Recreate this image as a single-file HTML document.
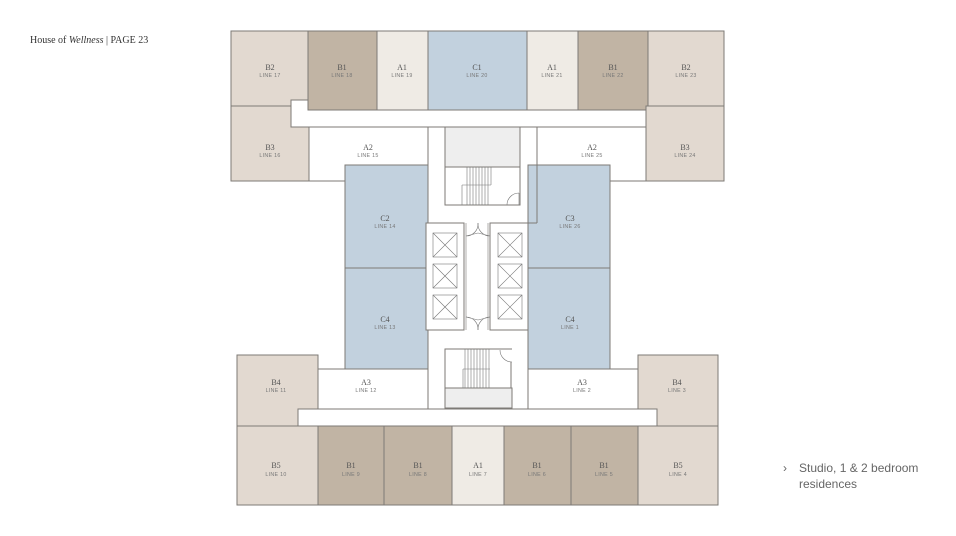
<!DOCTYPE html>
<html><head><meta charset="utf-8"><style>
html,body{margin:0;padding:0;background:#fff;width:956px;height:536px;overflow:hidden}
svg{display:block}
.n{font-family:"Liberation Serif",serif;font-size:8px;fill:#555;text-anchor:middle}
.l{font-family:"Liberation Sans",sans-serif;font-size:5.3px;fill:#777;text-anchor:middle;letter-spacing:.3px}
</style></head><body>
<svg width="956" height="536" viewBox="0 0 956 536" xmlns="http://www.w3.org/2000/svg">
<text x="30" y="43" font-family="Liberation Serif,serif" font-size="10" fill="#333">House of <tspan font-style="italic">Wellness</tspan> | PAGE 23</text>
<text x="783" y="472" font-family="Liberation Sans,sans-serif" font-size="12" fill="#666">›</text>
<text x="799" y="472" font-family="Liberation Sans,sans-serif" font-size="12" fill="#666">Studio, 1 &amp; 2 bedroom</text>
<text x="799" y="488" font-family="Liberation Sans,sans-serif" font-size="12" fill="#666">residences</text>
<g stroke="#7d7a76" stroke-width="1">
<rect x="231" y="31" width="77" height="75" fill="#e2d9d0"/>
<rect x="231" y="106" width="78" height="75" fill="#e2d9d0"/>
<rect x="291" y="100" width="372" height="27" fill="#fff"/>
<rect x="308" y="31" width="69" height="79" fill="#c1b4a4"/>
<rect x="377" y="31" width="51" height="79" fill="#efebe5"/>
<rect x="428" y="31" width="99" height="79" fill="#c2d1de"/>
<rect x="527" y="31" width="51" height="79" fill="#efebe5"/>
<rect x="578" y="31" width="70" height="79" fill="#c1b4a4"/>
<rect x="648" y="31" width="76" height="75" fill="#e2d9d0"/>
<rect x="646" y="106" width="78" height="75" fill="#e2d9d0"/>
<rect x="309" y="127" width="119" height="54" fill="#fff"/>
<rect x="537" y="127" width="109" height="54" fill="#fff"/>
<rect x="445" y="127" width="75" height="78" fill="#fff"/>
<rect x="445" y="127" width="75" height="40" fill="#eee"/>
<rect x="345" y="165" width="83" height="103" fill="#c2d1de"/>
<rect x="345" y="268" width="83" height="101" fill="#c2d1de"/>
<rect x="528" y="165" width="82" height="103" fill="#c2d1de"/>
<rect x="528" y="268" width="82" height="101" fill="#c2d1de"/>
<line x1="537" y1="165" x2="537" y2="223" />
<line x1="528" y1="223" x2="537" y2="223" />
<rect x="426" y="223" width="38" height="107" fill="#fff"/>
<rect x="490" y="223" width="38" height="107" fill="#fff"/>
<line x1="466" y1="223" x2="466" y2="330" stroke-width=".6"/>
<line x1="488" y1="223" x2="488" y2="330" stroke-width=".6"/>
<rect x="237" y="355" width="81" height="71" fill="#e2d9d0"/>
<rect x="638" y="355" width="80" height="71" fill="#e2d9d0"/>
<rect x="318" y="369" width="110" height="40" fill="#fff"/>
<rect x="528" y="369" width="110" height="40" fill="#fff"/>
<rect x="298" y="409" width="359" height="17" fill="#fff"/>
<rect x="445" y="349" width="67" height="59" fill="#fff" stroke="none"/>
<polyline points="512,349 445,349 445,408 512,408" fill="none"/>
<line x1="511" y1="362" x2="511" y2="408"/>
<rect x="445" y="388" width="67" height="20" fill="#eee"/>
<rect x="237" y="426" width="81" height="79" fill="#e2d9d0"/>
<rect x="318" y="426" width="66" height="79" fill="#c1b4a4"/>
<rect x="384" y="426" width="68" height="79" fill="#c1b4a4"/>
<rect x="452" y="426" width="52" height="79" fill="#efebe5"/>
<rect x="504" y="426" width="67" height="79" fill="#c1b4a4"/>
<rect x="571" y="426" width="67" height="79" fill="#c1b4a4"/>
<rect x="638" y="426" width="80" height="79" fill="#e2d9d0"/>
</g>
<g stroke="#777" stroke-width=".6" fill="none">
<rect x="433" y="233" width="24" height="24"/><path d="M433 233L457 257M457 233L433 257"/>
<rect x="433" y="264" width="24" height="24"/><path d="M433 264L457 288M457 264L433 288"/>
<rect x="433" y="295" width="24" height="24"/><path d="M433 295L457 319M457 295L433 319"/>
<rect x="498" y="233" width="24" height="24"/><path d="M498 233L522 257M522 233L498 257"/>
<rect x="498" y="264" width="24" height="24"/><path d="M498 264L522 288M522 264L498 288"/>
<rect x="498" y="295" width="24" height="24"/><path d="M498 295L522 319M522 295L498 319"/>
<path d="M466 236 L478 233 M478 223 A12 12 0 0 1 466 236"/>
<path d="M490 236 L478 233 M478 223 A12 12 0 0 0 490 236"/>
<path d="M466 317 L478 320 M478 330 A12 12 0 0 0 466 317"/>
<path d="M490 317 L478 320 M478 330 A12 12 0 0 1 490 317"/>
<path d="M507 205 A12 12 0 0 1 519 193 M519 193 V205"/>
<path d="M500 350 A12 12 0 0 0 512 362"/>
<path d="M467 167V205M470 167V205M473 167V205M476 167V205M479 167V205M482 167V205M485 167V205M488 167V205M491 167V185"/>
<path d="M462 185H491M462 185V205"/>
<path d="M465 349V388M468 349V388M471 349V388M474 349V388M477 349V388M480 349V388M483 349V388M486 349V388M489 349V388"/>
<path d="M463 369H490M463 369V388"/>
</g>
<g>
<text class="n" x="270" y="70">B2</text><text class="l" x="270" y="77">LINE 17</text>
<text class="n" x="342" y="70">B1</text><text class="l" x="342" y="77">LINE 18</text>
<text class="n" x="402" y="70">A1</text><text class="l" x="402" y="77">LINE 19</text>
<text class="n" x="477" y="70">C1</text><text class="l" x="477" y="77">LINE 20</text>
<text class="n" x="552" y="70">A1</text><text class="l" x="552" y="77">LINE 21</text>
<text class="n" x="613" y="70">B1</text><text class="l" x="613" y="77">LINE 22</text>
<text class="n" x="686" y="70">B2</text><text class="l" x="686" y="77">LINE 23</text>
<text class="n" x="270" y="150">B3</text><text class="l" x="270" y="157">LINE 16</text>
<text class="n" x="368" y="150">A2</text><text class="l" x="368" y="157">LINE 15</text>
<text class="n" x="592" y="150">A2</text><text class="l" x="592" y="157">LINE 25</text>
<text class="n" x="685" y="150">B3</text><text class="l" x="685" y="157">LINE 24</text>
<text class="n" x="385" y="221">C2</text><text class="l" x="385" y="228">LINE 14</text>
<text class="n" x="570" y="221">C3</text><text class="l" x="570" y="228">LINE 26</text>
<text class="n" x="385" y="322">C4</text><text class="l" x="385" y="329">LINE 13</text>
<text class="n" x="570" y="322">C4</text><text class="l" x="570" y="329">LINE 1</text>
<text class="n" x="276" y="385">B4</text><text class="l" x="276" y="392">LINE 11</text>
<text class="n" x="366" y="385">A3</text><text class="l" x="366" y="392">LINE 12</text>
<text class="n" x="582" y="385">A3</text><text class="l" x="582" y="392">LINE 2</text>
<text class="n" x="677" y="385">B4</text><text class="l" x="677" y="392">LINE 3</text>
<text class="n" x="276" y="468">B5</text><text class="l" x="276" y="476">LINE 10</text>
<text class="n" x="351" y="468">B1</text><text class="l" x="351" y="476">LINE 9</text>
<text class="n" x="418" y="468">B1</text><text class="l" x="418" y="476">LINE 8</text>
<text class="n" x="478" y="468">A1</text><text class="l" x="478" y="476">LINE 7</text>
<text class="n" x="537" y="468">B1</text><text class="l" x="537" y="476">LINE 6</text>
<text class="n" x="604" y="468">B1</text><text class="l" x="604" y="476">LINE 5</text>
<text class="n" x="678" y="468">B5</text><text class="l" x="678" y="476">LINE 4</text>
</g>
</svg>
</body></html>
